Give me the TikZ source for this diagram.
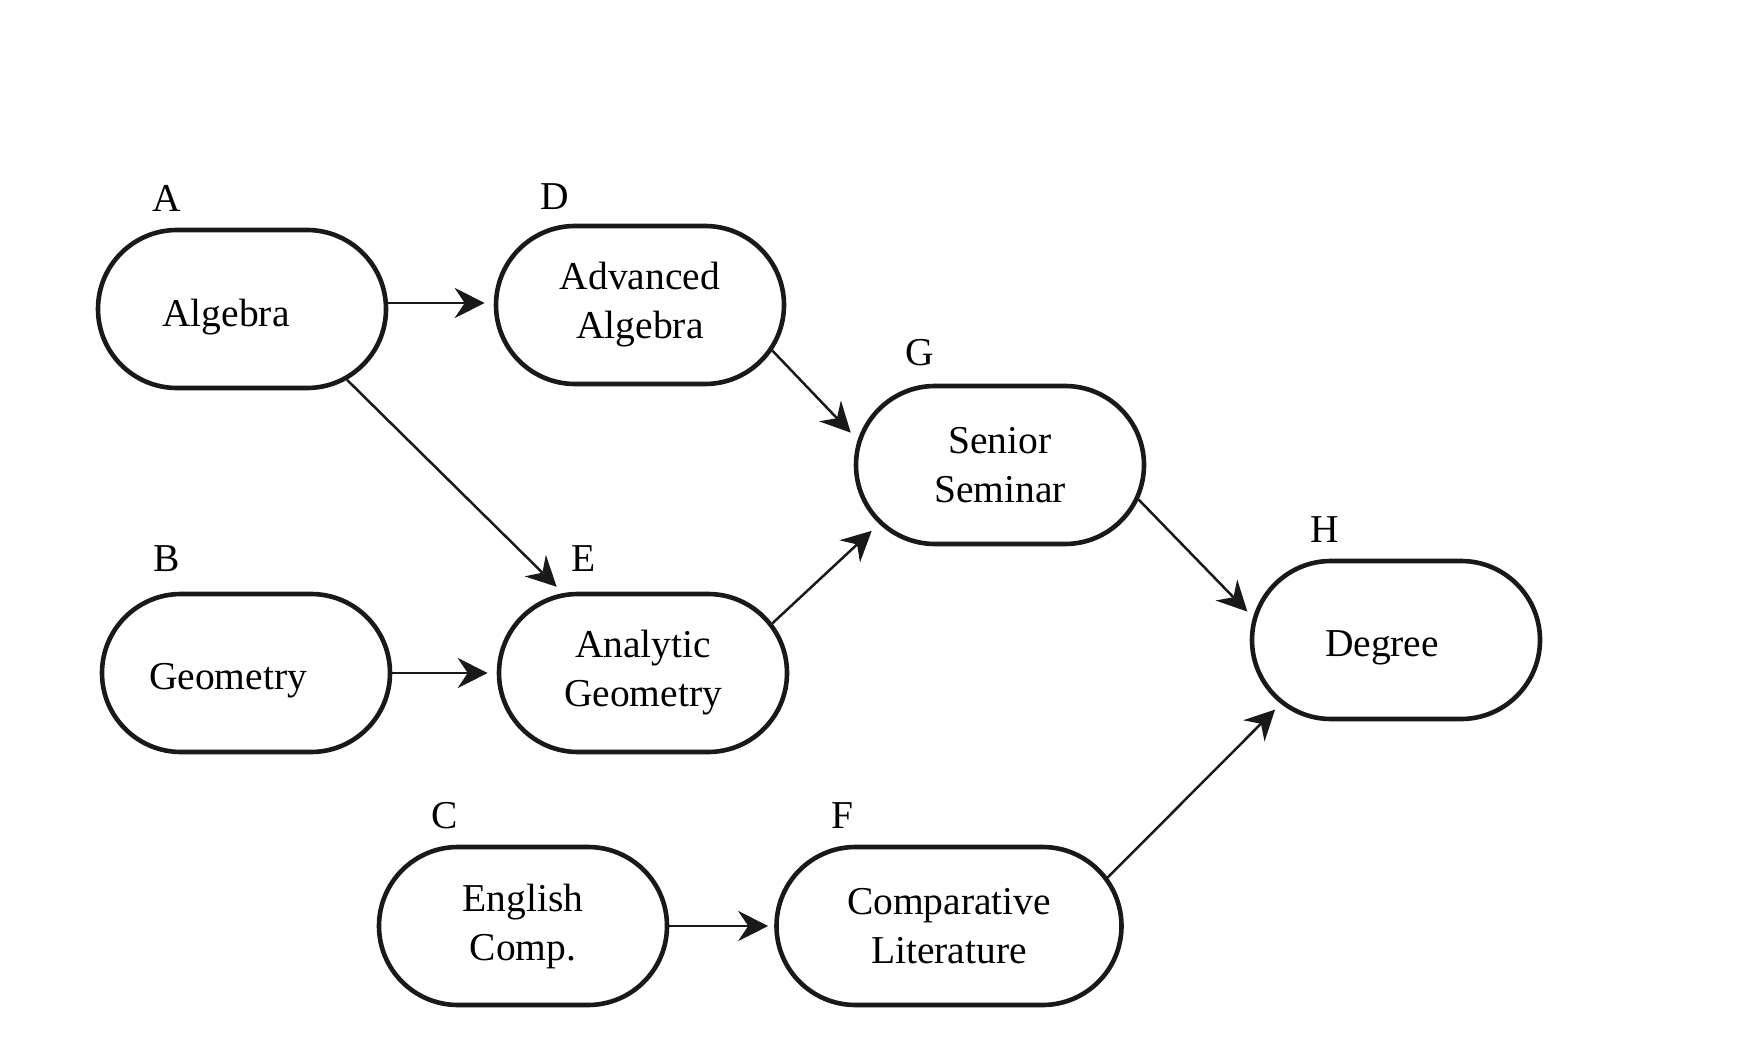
\documentclass[tikz,border=0pt]{standalone}
\usepackage{fontspec}
\setmainfont{Liberation Serif}
\usetikzlibrary{shapes.misc,arrows.meta,calc}
\newcommand{\lowtext}[1]{\raisebox{-8pt}[\height][\depth]{#1}}
\begin{document}
\begin{tikzpicture}[x=1pt,y=-1pt,
  course/.style={rounded rectangle, draw=black!90, line width=4.6pt, minimum width=288pt, minimum height=158pt, inner sep=0pt, align=center, font=\fontsize{39.5}{49}\selectfont},
  lab/.style={font=\fontsize{39.5}{49}\selectfont, inner sep=0pt},
  arr/.style={line width=2.5pt, draw=black!90, -{Stealth[length=30pt,width=30pt,inset=10pt]}}]
\useasboundingbox[fill=white] (0,0) rectangle (1747,1064);
% nodes
\node[course] (A) at (242,309) {\hspace*{-32pt}\lowtext{Algebra}};
\node[course] (D) at (640,305) {Advanced\\Algebra};
\node[course] (G) at (1000,465) {Senior\\Seminar};
\node[course] (B) at (246,673) {\hspace*{-36pt}\lowtext{Geometry}};
\node[course] (E) at (643,673) {Analytic\\Geometry};
\node[course] (H) at (1396,640) {\hspace*{-28pt}\lowtext{Degree}};
\node[course] (C) at (523,926) {English\\Comp.};
\node[course, minimum width=345pt] (F) at (949,926) {Comparative\\Literature};
% letter labels
\node[lab] (lA) at (167,198) {A};
\node[lab] (lD) at (555,197) {D};
\node[lab] (lG) at (920,353) {G};
\node[lab] (lB) at (167,559) {B};
\node[lab] (lE) at (584,559) {E};
\node[lab] (lH) at (1325,530) {H};
\node[lab] (lC) at (445,816) {C};
\node[lab] (lF) at (842,816) {F};
% connectors
\draw[arr, shorten >=9pt] ($(A.east)+(0,-6)$) -- ($(A.east -| D.west)+(0,-6)$);
\draw[arr, shorten >=9pt] (B.east) -- (B.east -| E.west);
\draw[arr, shorten >=6pt] (C.east) -- (C.east -| F.west);
\draw[arr, shorten >=9pt] (A.-34) -- (E.135);
\draw[arr, shorten >=10pt] (D.-19) -- (G.170);
\draw[arr, shorten >=10pt] (E.21) -- (G.206);
\draw[arr, shorten >=8pt] (G.-14) -- (H.171);
\draw[arr, shorten >=8pt] (F.17) -- (H.209);
\end{tikzpicture}
\end{document}
